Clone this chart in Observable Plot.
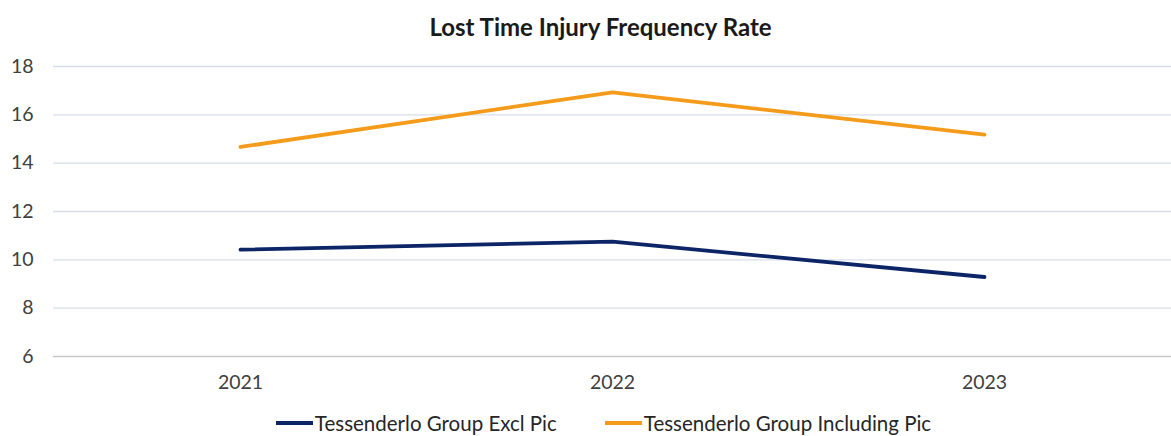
<!DOCTYPE html>
<html>
<head>
<meta charset="utf-8">
<script src="https://cdn.jsdelivr.net/npm/d3@7"></script>
<script src="https://cdn.jsdelivr.net/npm/@observablehq/plot@0.6"></script>
<style>
  body { margin: 0; background: #fff; font-family: Lato, "Open Sans", sans-serif; }
  #title { height: 50px; line-height: 54px; text-align: center; font-weight: bold; font-size: 24px; color: #1a1a1a; padding-left: 30px; box-sizing: border-box; }
  #legend { display: flex; justify-content: center; gap: 48px; font-size: 20.5px; color: #262626; margin-top: 9px; padding-left: 36px; }
  .item { display: flex; align-items: center; }
  .sw { width: 37px; height: 4px; margin-right: 2px; }
</style>
</head>
<body>
<div id="title">Lost Time Injury Frequency Rate</div>
<div id="chart"></div>
<div id="legend"></div>
<script>
const years = ["2021", "2022", "2023"];
const seriesNames = ["Tessenderlo Group Excl Pic", "Tessenderlo Group Including Pic"];
const exclPic = [10.42, 10.75, 9.29];
const inclPic = [14.67, 16.93, 15.18];
const colors = ["#0c2566", "#f59b1b"];
const yTicks = [6, 8, 10, 12, 14, 16, 18];

const data = [];
years.forEach((y, i) => {
  data.push({year: y, value: exclPic[i], series: seriesNames[0]});
  data.push({year: y, value: inclPic[i], series: seriesNames[1]});
});

const chart = Plot.plot({
  width: 1171,
  height: 352,
  marginTop: 16,
  marginLeft: 53,
  marginRight: 0,
  marginBottom: 46,
  style: {fontFamily: "Lato, 'Open Sans', sans-serif", fontSize: "19.5px", color: "#404040"},
  x: {type: "point", domain: years, padding: 0.5, label: null, tickSize: 0, tickPadding: 19},
  y: {domain: [6, 18], ticks: yTicks, label: null, tickSize: 0, tickPadding: 20},
  color: {domain: seriesNames, range: colors},
  marks: [
    Plot.ruleY(yTicks.filter(t => t !== 6), {stroke: "#d6dfe9", strokeWidth: 1.3}),
    Plot.ruleY([6], {stroke: "#c8c8c8", strokeWidth: 1.3}),
    Plot.line(data, {x: "year", y: "value", z: "series", stroke: "series", strokeWidth: 3.8, strokeLinejoin: "round"})
  ]
});
document.getElementById("chart").appendChild(chart);

const legend = document.getElementById("legend");
seriesNames.forEach((n, i) => {
  const it = document.createElement("div");
  it.className = "item";
  const sw = document.createElement("div");
  sw.className = "sw";
  sw.style.background = colors[i];
  it.appendChild(sw);
  const t = document.createElement("span");
  t.textContent = n;
  it.appendChild(t);
  legend.appendChild(it);
});
</script>
</body>
</html>
